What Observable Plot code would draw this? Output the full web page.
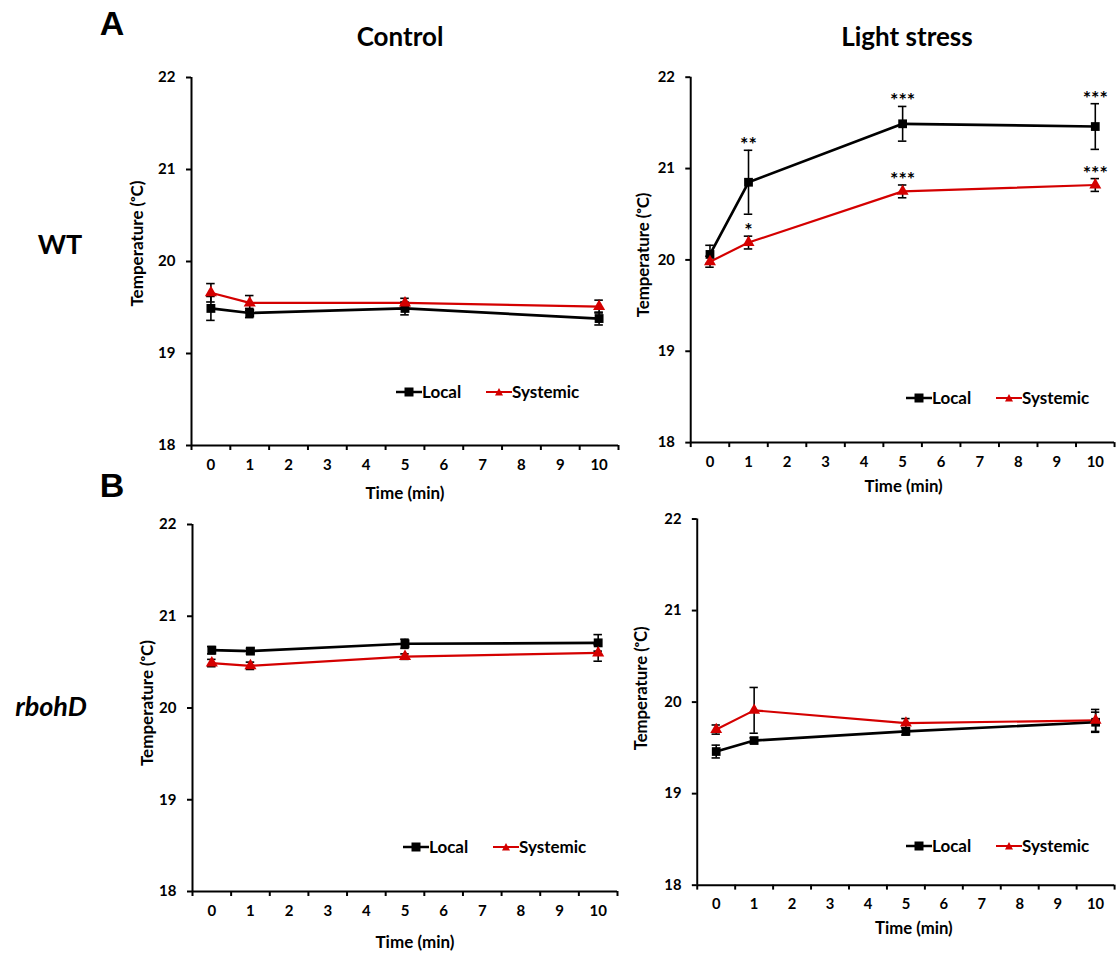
<!DOCTYPE html>
<html><head><meta charset="utf-8">
<script src="https://cdn.jsdelivr.net/npm/d3@7"></script>
<script src="https://cdn.jsdelivr.net/npm/@observablehq/plot@0.6"></script>
<style>
html,body{margin:0;padding:0;background:#fff;overflow:hidden;}
#root{position:relative;width:1120px;height:954px;font-family:Lato,"Open Sans",sans-serif;color:#000;}
.abs{position:absolute;white-space:nowrap;font-weight:bold;line-height:1;}
.plotwrap{position:absolute;}
</style></head><body><div id="root"></div><script>
// ---- data ----
const times = [0, 1, 5, 10];
const xTickLabels = [0, 1, 2, 3, 4, 5, 6, 7, 8, 9, 10];
const yTicks = [18, 19, 20, 21, 22];
const seriesNames = ["Local", "Systemic"];

const wtControlLocal = [19.49, 19.44, 19.49, 19.38];
const wtControlLocalErr = [0.13, 0.05, 0.07, 0.07];
const wtControlSystemic = [19.66, 19.55, 19.55, 19.51];
const wtControlSystemicErr = [0.10, 0.08, 0.05, 0.07];

const wtLightLocal = [20.06, 20.85, 21.49, 21.46];
const wtLightLocalErr = [0.10, 0.35, 0.19, 0.25];
const wtLightSystemic = [19.98, 20.19, 20.75, 20.82];
const wtLightSystemicErr = [0.06, 0.07, 0.07, 0.07];
const wtLightLocalStars = ["", "**", "***", "***"];
const wtLightSystemicStars = ["", "*", "***", "***"];

const rbohControlLocal = [20.63, 20.62, 20.70, 20.71];
const rbohControlLocalErr = [0.04, 0.03, 0.05, 0.09];
const rbohControlSystemic = [20.49, 20.46, 20.56, 20.60];
const rbohControlSystemicErr = [0.04, 0.04, 0.03, 0.09];

const rbohLightLocal = [19.46, 19.58, 19.68, 19.78];
const rbohLightLocalErr = [0.07, 0.03, 0.04, 0.11];
const rbohLightSystemic = [19.70, 19.91, 19.77, 19.80];
const rbohLightSystemicErr = [0.05, 0.25, 0.05, 0.12];

const noStars = ["", "", "", ""];
const RED = "#d40000";
const FONT = "Lato, 'Open Sans', sans-serif";
const root = document.getElementById("root");

function buildRows(local, localErr, sys, sysErr, localStars, sysStars) {
  const rows = [];
  times.forEach((t, i) => {
    rows.push({t, v: local[i], e: localErr[i], s: seriesNames[0], star: localStars[i]});
    rows.push({t, v: sys[i], e: sysErr[i], s: seriesNames[1], star: sysStars[i]});
  });
  return rows;
}

function panel(p) {
  const mL = 80, mT = 30, mB = 65, mR = 6;
  const rows = p.rows;
  const localRows = rows.filter(d => d.s === "Local");
  const sysRows = rows.filter(d => d.s === "Systemic");
  const chart = Plot.plot({
    width: p.right - p.left + mL + mR,
    height: p.bottom - p.top + mT + mB,
    marginLeft: mL, marginTop: mT, marginBottom: mB, marginRight: mR,
    style: {fontFamily: FONT, fontWeight: "bold", fontSize: "15px", color: "#000", background: "transparent", overflow: "visible"},
    x: {domain: [-0.5, 10.5]},
    y: {domain: [18, 22]},
    marks: [
      Plot.axisY({ticks: yTicks, tickFormat: d3.format("d"), tickSize: 5, tickPadding: 11, strokeWidth: 2, label: null, fontSize: 15}),
      Plot.axisX({ticks: d3.range(-0.5, 11, 1), tickSize: 5, tickFormat: () => "", strokeWidth: 2, label: null}),
      Plot.axisX({ticks: xTickLabels, tickFormat: d3.format("d"), tickSize: 0, tickPadding: 14, label: null, fontSize: 15}),
      Plot.ruleY([18], {stroke: "#000", strokeWidth: 2}),
      Plot.ruleX([-0.5], {stroke: "#000", strokeWidth: 2}),
      Plot.line(sysRows, {x: "t", y: "v", stroke: RED, strokeWidth: 2.2}),
      Plot.line(localRows, {x: "t", y: "v", stroke: "#000", strokeWidth: 2.7}),
      Plot.ruleX(rows, {x: "t", y1: d => d.v - d.e, y2: d => d.v + d.e, stroke: "#000", strokeWidth: 1.6}),
      Plot.ruleY(rows, {y: d => d.v + d.e, x1: d => d.t - 0.11, x2: d => d.t + 0.11, stroke: "#000", strokeWidth: 1.6}),
      Plot.ruleY(rows, {y: d => d.v - d.e, x1: d => d.t - 0.11, x2: d => d.t + 0.11, stroke: "#000", strokeWidth: 1.6}),
      Plot.dot(localRows, {x: "t", y: "v", symbol: "square", r: 5, fill: "#000"}),
      Plot.dot(sysRows, {x: "t", y: "v", symbol: "triangle", r: 4.5, fill: RED}),
      Plot.text(rows.filter(d => d.star), {x: "t", y: d => d.v + d.e, text: "star", lineAnchor: "bottom", dy: 1, fontSize: 20, fontWeight: "bold"}),
      Plot.text(["Temperature (ᵒC)"], {frameAnchor: "left", textAnchor: "middle", lineAnchor: "middle", rotate: -90, dx: p.ylabDx, dy: p.ylabDy, fontSize: 17, fontWeight: "bold"}),
      Plot.text(["Time (min)"], {frameAnchor: "bottom", textAnchor: "middle", lineAnchor: "middle", dx: p.xlabDx, dy: p.xlabDy, fontSize: 17, fontWeight: "bold"})
    ]
  });
  d3.select(chart).selectAll("g[aria-label$='tick label']").attr("font-size", 15).style("font-size", "15px");
  const wrap = document.createElement("div");
  wrap.className = "plotwrap";
  wrap.style.left = (p.left - mL) + "px";
  wrap.style.top = (p.top - mT) + "px";
  wrap.appendChild(chart);
  root.appendChild(wrap);
  legend(p.legX, p.legY);
}

function text(str, cx, cy, size, extra = {}) {
  const d = document.createElement("div");
  d.className = "abs";
  d.textContent = str;
  d.style.left = cx + "px";
  d.style.top = cy + "px";
  d.style.fontSize = size + "px";
  d.style.transform = "translate(-50%,-50%)";
  Object.assign(d.style, extra);
  root.appendChild(d);
}

function legend(x, cy) {
  const mk = (color, shape) => {
    const ns = "http://www.w3.org/2000/svg";
    const s = document.createElementNS(ns, "svg");
    s.setAttribute("width", 26); s.setAttribute("height", 12);
    const l = document.createElementNS(ns, "line");
    l.setAttribute("x1", 0); l.setAttribute("x2", 26); l.setAttribute("y1", 6); l.setAttribute("y2", 6);
    l.setAttribute("stroke", color); l.setAttribute("stroke-width", color === "#000" ? 2.5 : 2);
    s.appendChild(l);
    const m = document.createElementNS(ns, "path");
    m.setAttribute("d", shape === "square" ? "M8.5,1.5h9v9h-9z" : "M13,2L17,9.5H9z");
    m.setAttribute("fill", color);
    s.appendChild(m);
    return s;
  };
  const place = (el, left) => {
    el.style.position = "absolute";
    el.style.left = left + "px";
    el.style.top = (cy - 6) + "px";
    root.appendChild(el);
  };
  place(mk("#000", "square"), x);
  place(mk(RED, "triangle"), x + 90);
  const t1 = document.createElement("div");
  t1.className = "abs"; t1.textContent = "Local"; t1.style.fontSize = "17px";
  t1.style.left = (x + 26) + "px"; t1.style.top = (cy - 9) + "px";
  root.appendChild(t1);
  const t2 = document.createElement("div");
  t2.className = "abs"; t2.textContent = "Systemic"; t2.style.fontSize = "17px";
  t2.style.left = (x + 116) + "px"; t2.style.top = (cy - 9) + "px";
  root.appendChild(t2);
}

panel({left: 191, top: 77, bottom: 445, right: 618,
  rows: buildRows(wtControlLocal, wtControlLocalErr, wtControlSystemic, wtControlSystemicErr, noStars, noStars),
  ylabDx: -54, ylabDy: -18, xlabDx: 0, xlabDy: 48, legX: 396, legY: 392});
panel({left: 691, top: 77, bottom: 446, right: 1119,
  rows: buildRows(wtLightLocal, wtLightLocalErr, wtLightSystemic, wtLightSystemicErr, wtLightLocalStars, wtLightSystemicStars),
  ylabDx: -48, ylabDy: -5, xlabDx: 1, xlabDy: 44, legX: 906, legY: 398});
panel({left: 192, top: 524, bottom: 891, right: 617,
  rows: buildRows(rbohControlLocal, rbohControlLocalErr, rbohControlSystemic, rbohControlSystemicErr, noStars, noStars),
  ylabDx: -45, ylabDy: -5, xlabDx: 10, xlabDy: 51, legX: 403, legY: 847});
panel({left: 698, top: 519, bottom: 891, right: 1122,
  rows: buildRows(rbohLightLocal, rbohLightLocalErr, rbohLightSystemic, rbohLightSystemicErr, noStars, noStars),
  ylabDx: -56, ylabDy: -14, xlabDx: 8, xlabDy: 44, legX: 906, legY: 846});

text("A", 112, 23, 34, {fontFamily: "'Liberation Sans', Arial, sans-serif"});
text("B", 112, 485, 34, {fontFamily: "'Liberation Sans', Arial, sans-serif"});
text("Control", 400, 36, 26);
text("Light stress", 907, 36, 26);
text("WT", 60, 243, 27);
text("rbohD", 51, 705, 27, {fontStyle: "italic"});
</script></body></html>
